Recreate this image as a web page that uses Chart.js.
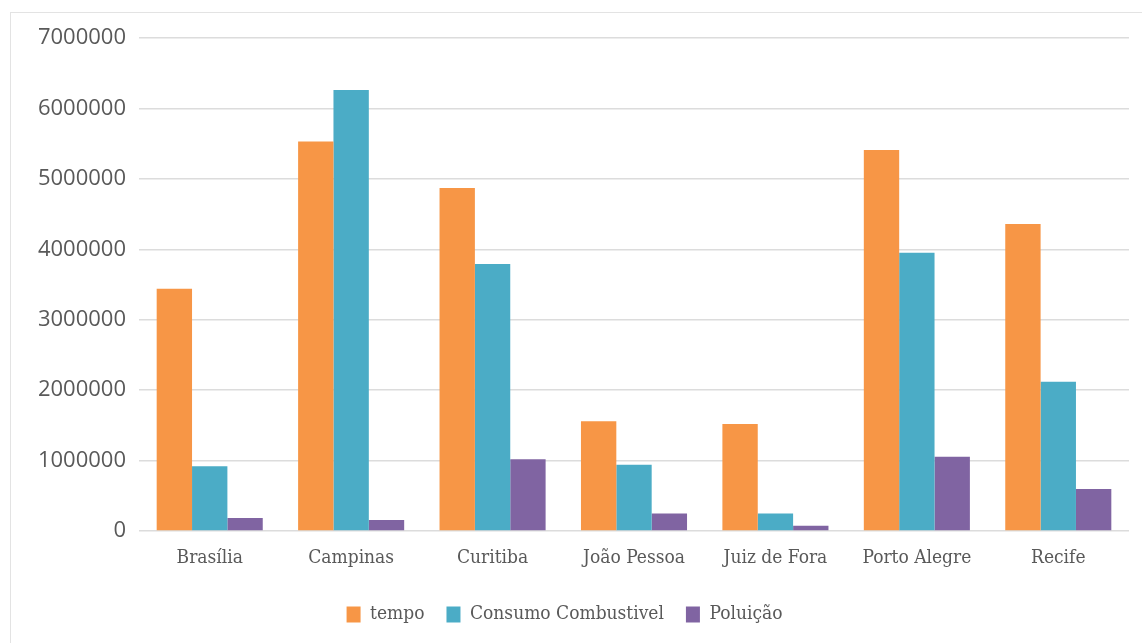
<!DOCTYPE html>
<html>
<head>
<meta charset="utf-8">
<script src="https://cdn.jsdelivr.net/npm/chart.js@4"></script>
<style>
  html, body { margin: 0; padding: 0; background: #ffffff; }
  #wrap { position: relative; width: 1142px; height: 643px; overflow: hidden; }
  #frame { position: absolute; left: 10px; top: 12px; width: 1140px; height: 700px; border: 1px solid #e3e3e3; box-sizing: border-box; }
  canvas { position: absolute; left: 0; top: 0; }
</style>
</head>
<body>
<div id="wrap">
  <div id="frame"></div>
  <canvas id="c" width="1142" height="643"></canvas>
</div>
<script>
const cidades = ['Brasília', 'Campinas', 'Curitiba', 'João Pessoa', 'Juiz de Fora', 'Porto Alegre', 'Recife'];
const tempo = [3440000, 5530000, 4870000, 1560000, 1520000, 5410000, 4360000];
const consumoCombustivel = [920000, 6260000, 3790000, 940000, 250000, 3950000, 2120000];
const poluicao = [185000, 156000, 1020000, 250000, 75000, 1055000, 597000];
const yTicks = [0, 1000000, 2000000, 3000000, 4000000, 5000000, 6000000, 7000000];

const serieNomes = ['tempo', 'Consumo Combustivel', 'Poluição'];
const serieCores = ['#F79646', '#4BACC6', '#8064A2'];

const serifFont = "'DejaVu Serif Condensed', 'DejaVu Serif', serif";
const sansFont = "'Open Sans', sans-serif";
const textColor = '#595959';

new Chart(document.getElementById('c'), {
  type: 'bar',
  data: {
    labels: cidades,
    datasets: [tempo, consumoCombustivel, poluicao].map((vals, i) => ({
      label: serieNomes[i],
      data: vals,
      backgroundColor: serieCores[i],
      borderWidth: 0,
      categoryPercentage: 0.75,
      barPercentage: 1.0
    }))
  },
  options: {
    responsive: false,
    animation: false,
    devicePixelRatio: 1,
    layout: { padding: { left: 0, right: 13, top: 38, bottom: 9 } },
    plugins: {
      tooltip: { enabled: false },
      legend: {
        position: 'bottom',
        labels: {
          font: { family: serifFont, size: 19 },
          color: textColor,
          boxWidth: 14,
          boxHeight: 16,
          padding: 22
        }
      }
    },
    scales: {
      x: {
        grid: { display: false },
        border: { display: false },
        ticks: {
          font: { family: serifFont, size: 19 },
          color: textColor,
          padding: 8,
          maxRotation: 0
        },
        afterFit: (s) => { s.height = 52; }
      },
      y: {
        min: 0,
        max: 7000000,
        afterBuildTicks: (s) => { s.ticks = yTicks.map(v => ({ value: v })); },
        grid: { color: '#dcdcdc', lineWidth: 1.5, drawTicks: false },
        border: { display: false },
        ticks: {
          font: { family: sansFont, size: 22 },
          color: textColor,
          padding: 13,
          callback: (v) => String(v)
        },
        afterFit: (s) => { s.width = 139; }
      }
    }
  }
});
</script>
</body>
</html>
